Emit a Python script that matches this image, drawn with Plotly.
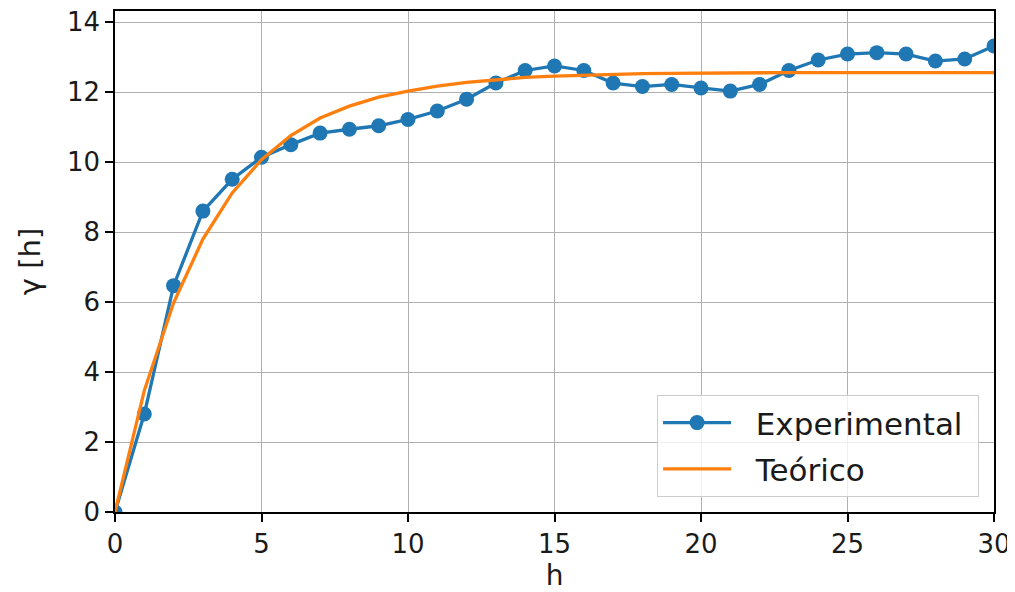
import plotly.graph_objects as go

h = list(range(0, 31))
experimental = [0.0, 2.8, 6.47, 8.6, 9.51, 10.14, 10.5, 10.83, 10.94, 11.04,
                11.22, 11.46, 11.8, 12.26, 12.62, 12.75, 12.62, 12.26, 12.16, 12.22,
                12.12, 12.03, 12.22, 12.62, 12.92, 13.09, 13.13, 13.09, 12.89, 12.95,
                13.32]
teorico = [0.0, 3.47, 5.98, 7.80, 9.12, 10.07, 10.76, 11.26, 11.6, 11.86,
           12.03, 12.17, 12.28, 12.36, 12.42, 12.46, 12.49, 12.51, 12.53, 12.54,
           12.55, 12.55, 12.56, 12.56, 12.56, 12.56, 12.56, 12.56, 12.56, 12.56,
           12.56]
x_ticks = [0, 5, 10, 15, 20, 25, 30]
y_ticks = [0, 2, 4, 6, 8, 10, 12, 14]

FONT = "DejaVu Sans"
NB = "\u00a0\u00a0"

fig = go.Figure()
fig.add_trace(go.Scatter(
    x=h, y=experimental, mode="lines+markers", name=NB + "Experimental\u00a0",
    legendgroup="a",
    line=dict(color="#1f77b4", width=3.3),
    marker=dict(color="#1f77b4", size=15),
))
fig.add_trace(go.Scatter(
    x=h, y=teorico, mode="lines", name=NB + "Teórico",
    legendgroup="b",
    line=dict(color="#ff7f0e", width=3.3),
))

axis_common = dict(
    showline=True, linecolor="black", linewidth=1.5, mirror=True,
    ticks="outside", ticklen=8, tickwidth=1.5, tickcolor="black",
    showgrid=True, gridcolor="#b0b0b0", gridwidth=1.3,
    zeroline=False, automargin=False, ticklabeloverflow="allow",
    tickfont=dict(family=FONT, size=26, color="#1a1a1a"),
)

# The page body adds an 8px offset, so the figure is sized to fit the window.
fig.update_layout(
    width=1007, height=584,
    margin=dict(l=107, r=21, t=3, b=80),
    paper_bgcolor="white", plot_bgcolor="white",
    font=dict(family=FONT, color="#1a1a1a"),
    xaxis=dict(range=[0, 30], tickvals=x_ticks,
               title=dict(text="h", font=dict(family=FONT, size=28), standoff=11),
               **axis_common),
    yaxis=dict(range=[0, 14.32], tickvals=y_ticks,
               title=dict(text="γ [h]", font=dict(family=FONT, size=29), standoff=18),
               **axis_common),
    legend=dict(
        x=0.983, y=0.03, xanchor="right", yanchor="bottom",
        bgcolor="rgba(255,255,255,0.8)", bordercolor="#cccccc", borderwidth=1,
        font=dict(family=FONT, size=31, color="#1a1a1a"),
        itemwidth=68, traceorder="grouped", tracegroupgap=3,
    ),
    showlegend=True,
)

fig.write_html("out.html")
